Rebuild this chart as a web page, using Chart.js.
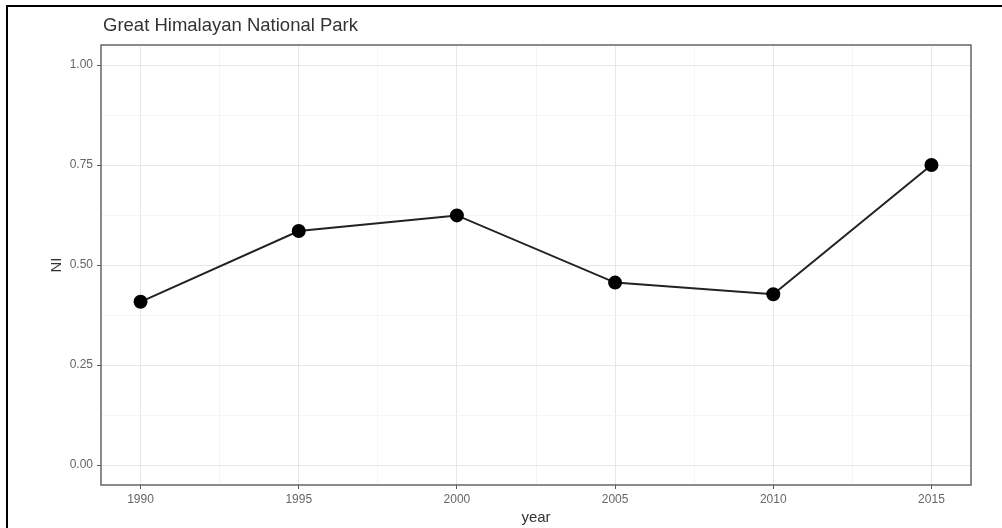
<!DOCTYPE html>
<html>
<head>
<meta charset="utf-8">
<script src="https://cdn.jsdelivr.net/npm/chart.js@4"></script>
<style>
  html, body { margin: 0; padding: 0; background: #fff; }
  #wrap { width: 1002px; height: 528px; }
</style>
</head>
<body>
<div id="wrap"><canvas id="chart" width="1002" height="528"></canvas></div>
<script>
const years = [1990, 1995, 2000, 2005, 2010, 2015];
const ni = [0.408, 0.585, 0.624, 0.456, 0.427, 0.75];
const xTicks = [1990, 1992.5, 1995, 1997.5, 2000, 2002.5, 2005, 2007.5, 2010, 2012.5, 2015];
const yTicks = [0, 0.125, 0.25, 0.375, 0.5, 0.625, 0.75, 0.875, 1];
const yLabels = ['0.00', '0.25', '0.50', '0.75', '1.00'];

const FONT = '"Liberation Sans", Arial, sans-serif';

function isMajorX(v) { return v % 5 === 0; }
function isMajorY(v) { return Math.round(v * 1000) % 250 === 0; }

const frame = {
  id: 'frame',
  afterDraw(chart) {
    const { ctx, chartArea: a } = chart;
    ctx.save();
    // panel border
    ctx.strokeStyle = '#666';
    ctx.lineWidth = 1.5;
    ctx.strokeRect(a.left, a.top, a.right - a.left, a.bottom - a.top);
    // outer figure edge
    ctx.strokeStyle = '#000';
    ctx.lineWidth = 2;
    ctx.beginPath();
    ctx.moveTo(7, 528);
    ctx.lineTo(7, 6);
    ctx.lineTo(1002, 6);
    ctx.stroke();
    // title
    ctx.fillStyle = '#333';
    ctx.font = '18.5px ' + FONT;
    ctx.textAlign = 'left';
    ctx.textBaseline = 'alphabetic';
    ctx.fillText('Great Himalayan National Park', 103, 31);
    ctx.restore();
  }
};

new Chart(document.getElementById('chart'), {
  type: 'line',
  data: {
    datasets: [{
      data: years.map((y, i) => ({ x: y, y: ni[i] })),
      borderColor: '#222',
      borderWidth: 2,
      pointBackgroundColor: '#000',
      pointBorderColor: '#000',
      pointRadius: 6,
      pointHoverRadius: 6,
      tension: 0
    }]
  },
  options: {
    responsive: false,
    animation: false,
    events: [],
    layout: { padding: { left: 0, top: 45, right: 31, bottom: 0 } },
    plugins: { legend: { display: false }, tooltip: { enabled: false }, title: { display: false } },
    scales: {
      x: {
        type: 'linear',
        min: 1988.75,
        max: 2016.25,
        afterBuildTicks: s => { s.ticks = xTicks.map(v => ({ value: v })); },
        afterFit: s => { s.height = 43; },
        border: { display: false },
        grid: {
          color: c => isMajorX(c.tick.value) ? '#e6e6e6' : '#f2f2f2',
          lineWidth: c => isMajorX(c.tick.value) ? 1 : 0.8,
          tickColor: c => isMajorX(c.tick.value) ? '#555' : 'rgba(0,0,0,0)',
          tickLength: 4,
          drawTicks: true
        },
        ticks: {
          autoSkip: false,
          maxRotation: 0,
          padding: 3,
          color: '#666',
          font: { family: FONT, size: 12 },
          callback: v => isMajorX(v) ? String(v) : ''
        },
        title: {
          display: true,
          text: 'year',
          color: '#333',
          font: { family: FONT, size: 15 },
          padding: { top: 0, bottom: 1 }
        }
      },
      y: {
        min: -0.05,
        max: 1.05,
        afterBuildTicks: s => { s.ticks = yTicks.map(v => ({ value: v })); },
        afterFit: s => { s.width = 101; },
        border: { display: false },
        grid: {
          color: c => isMajorY(c.tick.value) ? '#e6e6e6' : '#f2f2f2',
          lineWidth: c => isMajorY(c.tick.value) ? 1 : 0.8,
          tickColor: c => isMajorY(c.tick.value) ? '#555' : 'rgba(0,0,0,0)',
          tickLength: 4,
          drawTicks: true
        },
        ticks: {
          autoSkip: false,
          padding: 4,
          color: '#666',
          font: { family: FONT, size: 12 },
          callback: v => isMajorY(v) ? yLabels[Math.round(v * 4)] : ''
        },
        title: {
          display: true,
          text: 'NI',
          color: '#333',
          font: { family: FONT, size: 15 },
          padding: { top: 48, bottom: 0 }
        }
      }
    }
  },
  plugins: [frame]
});
</script>
</body>
</html>
